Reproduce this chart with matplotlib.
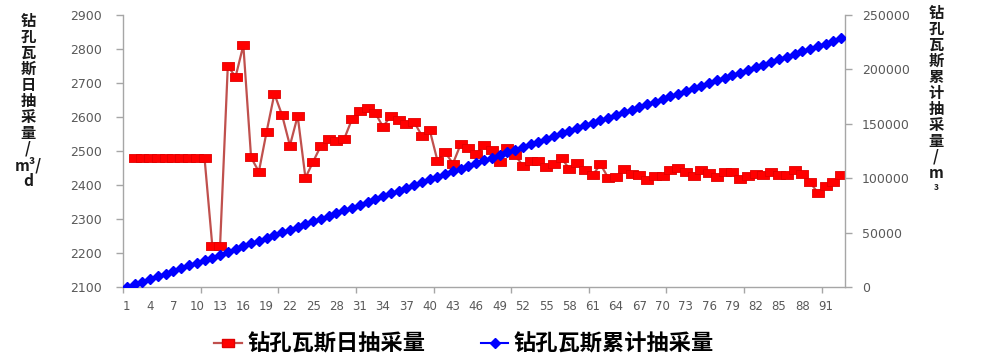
import matplotlib
matplotlib.use('Agg')
import matplotlib.pyplot as plt
from matplotlib.lines import Line2D
import numpy as np

plt.rcParams['font.family'] = ['DejaVu Sans']
cjk = ['Noto Sans CJK SC', 'DejaVu Sans']

# category axis: 1..93
days = list(range(1, 94))
tick_days = list(range(1, 93, 3))

# daily drainage (m3/d), starts at day 2
daily_days = list(range(2, 94))
daily = [2480, 2480, 2480, 2480, 2480, 2480, 2480, 2480, 2480, 2480,
         2222, 2220, 2750, 2718, 2811, 2481, 2439, 2557, 2668, 2605,
         2516, 2603, 2421, 2469, 2516, 2534, 2530, 2536, 2594, 2618,
         2626, 2611, 2571, 2604, 2591, 2579, 2585, 2545, 2562, 2472,
         2496, 2463, 2520, 2510, 2491, 2518, 2503, 2469, 2510, 2488,
         2457, 2472, 2472, 2452, 2461, 2479, 2447, 2464, 2444, 2429,
         2461, 2421, 2423, 2447, 2432, 2430, 2414, 2427, 2427, 2444,
         2451, 2437, 2427, 2444, 2434, 2424, 2439, 2439, 2417, 2427,
         2431, 2429, 2439, 2429, 2428, 2444, 2433, 2408, 2377, 2397,
         2408, 2429]

# cumulative drainage (m3)
cumulative = [0, 2480, 4960, 7440, 9920, 12400, 14880, 17360, 19840, 22320,
              24800, 27022, 29242, 31992, 34710, 37521, 40002, 42441, 44998, 47666,
              50271, 52787, 55390, 57811, 60280, 62796, 65330, 67860, 70396, 72990,
              75608, 78234, 80845, 83416, 86020, 88611, 91190, 93775, 96320, 98882,
              101354, 103850, 106313, 108833, 111343, 113834, 116352, 118855, 121324, 123834,
              126322, 128779, 131251, 133723, 136175, 138636, 141115, 143562, 146026, 148470,
              150899, 153360, 155781, 158204, 160651, 163083, 165513, 167927, 170354, 172781,
              175225, 177676, 180113, 182540, 184984, 187418, 189842, 192281, 194720, 197137,
              199564, 201995, 204424, 206863, 209292, 211720, 214164, 216597, 219005, 221382,
              223779, 226187, 228616]

label_daily = '钻孔瓦斯日抽采量'
label_cum = '钻孔瓦斯累计抽采量'

axis_gray = '#a6a6a6'
text_gray = '#595959'
rect = [(-1, -0.7), (1, -0.7), (1, 0.7), (-1, 0.7), (-1, -0.7)]

fig = plt.figure(figsize=(9.81, 3.6), dpi=100)
ax = fig.add_axes([123/981, 1-287/360, (845-123)/981, (287-15)/360])
ax2 = ax.twinx()

ax.plot(daily_days, daily, color='#c0504d', lw=1.6, marker=rect, ms=8,
        mfc='#ff0000', mec='#e00000', mew=0.6, zorder=3)
ax2.plot(days, cumulative, color='#0000ff', lw=1.5, marker='D', ms=4.6,
         mfc='#0000ff', mec='#0000ff', zorder=3)

ax.set_xlim(0.5, 93.5)
ax.set_ylim(2100, 2900)
ax2.set_ylim(0, 250000)
ax.set_yticks(range(2100, 2901, 100))
ax2.set_yticks(range(0, 250001, 50000))
ax.set_xticks(tick_days)
ax.set_xticks(np.arange(0.5, 94, 10), minor=True)

for a in (ax, ax2):
    a.spines['top'].set_visible(False)
    for s in ('left', 'right', 'bottom'):
        a.spines[s].set_color(axis_gray)
        a.spines[s].set_linewidth(1.0)
ax.spines['right'].set_visible(False)
ax2.spines['left'].set_visible(False)
ax2.spines['bottom'].set_visible(False)

ax.tick_params(axis='x', which='major', length=0, pad=9, labelsize=8.5, labelcolor=text_gray)
ax.tick_params(axis='x', which='minor', length=4, width=1, color=axis_gray, direction='out')
ax.tick_params(axis='y', length=5, width=1, color=axis_gray, pad=10, labelsize=9, labelcolor=text_gray)
ax2.tick_params(axis='y', length=5, width=1, color=axis_gray, pad=7, labelsize=9, labelcolor=text_gray)

# vertical axis titles, one character per line
left_title = '\n'.join(list('钻孔瓦斯日抽采量') + ['/', 'm³/', 'd'])
right_title = '\n'.join(list('钻孔瓦斯累计抽采量') + ['/', 'm'])
fig.text(28/981, 1-13/360, left_title, ha='center', va='top', fontsize=11,
         fontweight='bold', family=cjk, linespacing=1.0, color='#1a1a1a')
fig.text(936/981, 1-5/360, right_title, ha='center', va='top', fontsize=11,
         fontweight='bold', family=cjk, linespacing=1.0, color='#1a1a1a')
fig.text(936/981, 1-187/360, '3', ha='center', va='center', fontsize=6,
         fontweight='bold', family=cjk, color='#1a1a1a')

handles = [Line2D([], [], color='#c0504d', lw=1.6, marker=rect, ms=9,
                  mfc='#ff0000', mec='#e00000'),
           Line2D([], [], color='#0000ff', lw=1.5, marker='D', ms=4.6,
                  mfc='#0000ff', mec='#0000ff')]
fig.legend(handles, [label_daily, label_cum], loc='center', ncol=2,
           bbox_to_anchor=(464/981, 1-344/360), frameon=False,
           prop={'family': cjk, 'size': 16, 'weight': 'bold'},
           handlelength=1.25, handletextpad=0.25, columnspacing=2.5,
           borderpad=0, borderaxespad=0)

plt.savefig('out.png', dpi=100)
